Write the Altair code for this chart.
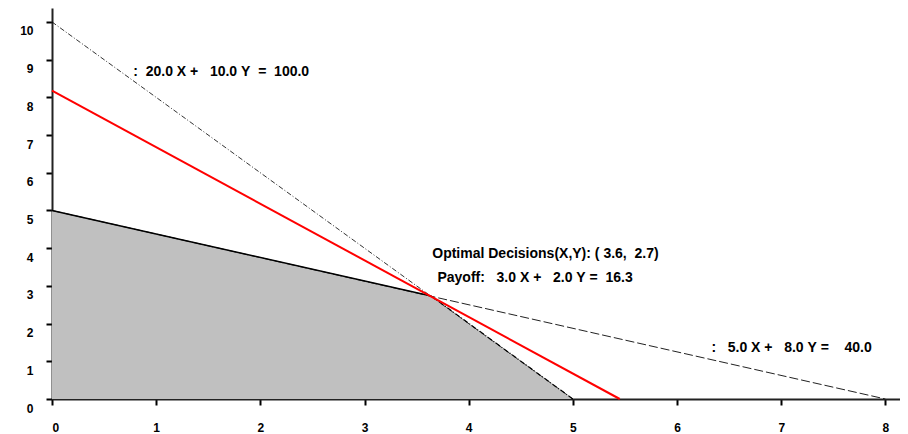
import altair as alt
import pandas as pd

NB = "\u00a0"

# constraint 1: 20X + 10Y = 100
c1_x = [0, 5]
c1_y = [10, 0]
# constraint 2: 5X + 8Y = 40
c2_x = [0, 8]
c2_y = [5, 0]
# objective: 3X + 2Y = 16.3
obj_x = [0, 5.45]
obj_y = [8.18, 0]
# feasible region upper boundary
reg_x = [0, 3.64, 5]
reg_y = [5, 2.73, 0]
# binding edges
edge1_x = [0, 3.64]
edge1_y = [5, 2.73]
edge2_x = [3.64, 5]
edge2_y = [2.73, 0]

labels = [
    ":  20.0 X +   10.0 Y  =  100.0",
    "Optimal Decisions(X,Y): ( 3.6,  2.7)",
    "Payoff:   3.0 X +   2.0 Y =  16.3",
    ":   5.0 X +   8.0 Y =    40.0",
]
label_x = [0.78, 3.65, 3.70, 6.33]
label_y = [8.67, 3.85, 3.21, 1.35]

x_ticks = [0, 1, 2, 3, 4, 5, 6, 7, 8]
y_ticks = [0, 1, 2, 3, 4, 5, 6, 7, 8, 9, 10]

xs = alt.Scale(domain=[0, 8.14], nice=False, zero=False)
ys = alt.Scale(domain=[0, 10.37], nice=False, zero=False)
xa = alt.Axis(values=x_ticks, labelPadding=17, title=None)
ya = alt.Axis(values=y_ticks, labelPadding=13, labelOffset=9, title=None)


def X(f="x"):
    return alt.X(f"{f}:Q", scale=xs, axis=xa)


def Y(f="y"):
    return alt.Y(f"{f}:Q", scale=ys, axis=ya)


region = alt.Chart(pd.DataFrame({"x": reg_x, "y": reg_y})).mark_area(
    color="#c0c0c0", opacity=1
).encode(x=X(), y=Y())

line1 = alt.Chart(pd.DataFrame({"x": c1_x, "y": c1_y})).mark_line(
    color="#000000", strokeWidth=0.8, strokeDash=[5, 2, 1, 2]
).encode(x=X(), y=Y())

line2 = alt.Chart(pd.DataFrame({"x": c2_x, "y": c2_y})).mark_line(
    color="#222222", strokeWidth=1, strokeDash=[9, 3]
).encode(x=X(), y=Y())

edge1 = alt.Chart(pd.DataFrame({"x": edge1_x, "y": edge1_y})).mark_line(
    color="#000000", strokeWidth=1.5
).encode(x=X(), y=Y())

edge2 = alt.Chart(pd.DataFrame({"x": edge2_x, "y": edge2_y})).mark_line(
    color="#000000", strokeWidth=1.2, strokeDash=[5, 2, 1, 2]
).encode(x=X(), y=Y())

obj = alt.Chart(pd.DataFrame({"x": obj_x, "y": obj_y})).mark_line(
    color="#ff0000", strokeWidth=2
).encode(x=X(), y=Y())

text_df = pd.DataFrame({"x": label_x, "y": label_y, "t": [s.replace(" ", NB) for s in labels]})
text = alt.Chart(text_df).mark_text(
    align="left", baseline="middle", font="Liberation Sans", fontWeight="bold",
    fontSize=14, color="#000000"
).encode(x=X(), y=Y(), text="t:N")

chart = alt.layer(region, line1, line2, edge1, edge2, obj, text).properties(
    width=848,
    height=391,
    autosize=alt.AutoSizeParams(type="none"),
    padding={"left": 44, "top": 0, "right": 0, "bottom": 34},
).configure_view(stroke=None).configure_axis(
    grid=False,
    domainColor="#222222",
    domainWidth=2,
    tickColor="#000000",
    tickWidth=2,
    tickSize=6,
    labelFont="Liberation Sans",
    labelFontWeight="bold",
    labelFontSize=12,
    labelColor="#000000",
)

chart.save("out.html", embed_options={"renderer": "svg", "actions": False})
